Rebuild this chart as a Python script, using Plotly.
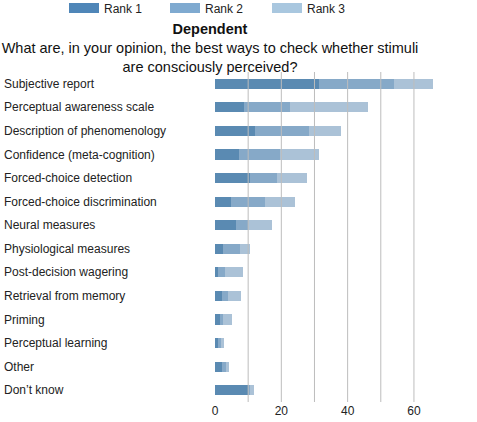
import plotly.graph_objects as go

categories = ["Subjective report", "Perceptual awareness scale", "Description of phenomenology",
              "Confidence (meta-cognition)", "Forced-choice detection", "Forced-choice discrimination",
              "Neural measures", "Physiological measures", "Post-decision wagering",
              "Retrieval from memory", "Priming", "Perceptual learning", "Other", "Don\u2019t know"]
rank1 = [31.5, 8.6, 12.0, 7.2, 10.5, 4.8, 6.3, 2.4, 1.0, 2.0, 1.5, 0.8, 2.0, 10.0]
rank2 = [22.6, 13.9, 16.3, 12.4, 8.2, 10.3, 3.7, 5.1, 2.0, 2.0, 1.0, 0.9, 1.2, 0.7]
rank3 = [11.7, 23.5, 9.7, 11.7, 9.0, 9.1, 7.3, 3.2, 5.4, 3.7, 2.7, 0.9, 0.9, 1.0]
series_names = ["Rank 1", "Rank 2", "Rank 3"]
bar_colors = ["#5a8ab2", "#86a9c8", "#abc2d7"]
legend_colors = ["#4f86b8", "#7faad0", "#a9c7df"]
tick_values = [0, 20, 40, 60]
grid_values = [10, 20, 30, 40, 50, 60]

W, H = 477, 422
ml, mr, mt, mb = 215, 10, 72, 20
font = "Liberation Sans, Arial, Helvetica, sans-serif"
legend_ids = ["legend", "legend2", "legend3"]
legend_left_px = [64, 165, 267]

fig = go.Figure()
for name, vals, col in zip(series_names, [rank1, rank2, rank3], bar_colors):
    fig.add_trace(go.Bar(y=categories, x=vals, orientation="h", name=name,
                         marker=dict(color=col, line=dict(width=0)), showlegend=False))
# legend entries with wide swatches
for name, col, lid in zip(series_names, legend_colors, legend_ids):
    fig.add_trace(go.Scatter(x=[None], y=[None], mode="lines", name=name, legend=lid,
                             line=dict(color=col, width=10), showlegend=True))

shapes = [dict(type="line", xref="x", yref="paper", x0=g, x1=g, y0=0, y1=1,
               line=dict(color="#bdbdbd", width=1), layer="above") for g in grid_values]

annotations = [dict(x=(2 - ml) / (W - ml - mr), xref="paper", y=c, yref="y", text=c,
                    showarrow=False, xanchor="left", yanchor="middle",
                    font=dict(family=font, size=12, color="#222")) for c in categories]

legends = {}
for lid, px in zip(legend_ids, legend_left_px):
    legends[lid] = dict(orientation="h", x=px / W, xanchor="left", xref="container",
                        y=1 - 8 / H, yanchor="middle", yref="container", bgcolor="rgba(0,0,0,0)",
                        font=dict(family=font, size=12, color="#222"), itemwidth=30)

fig.update_layout(
    width=W, height=H,
    margin=dict(l=ml, r=mr, t=mt, b=mb, autoexpand=False),
    barmode="stack", bargap=0.575,
    plot_bgcolor="white", paper_bgcolor="white",
    font=dict(family=font, size=12, color="#222"),
    title=dict(text="<b>Dependent</b><br>What are, in your opinion, the best ways to check whether stimuli<br>are consciously perceived?",
               x=210 / W, xanchor="center", xref="container", y=1 - 34 / H, yanchor="top", yref="container",
               font=dict(family=font, size=14.5, color="#111")),
    xaxis=dict(range=[0, 76], tickvals=tick_values, showgrid=False, zeroline=False,
               showline=False, ticks="", tickfont=dict(family=font, size=12, color="#222")),
    yaxis=dict(autorange="reversed", showticklabels=False, showgrid=False, zeroline=False, ticks=""),
    shapes=shapes, annotations=annotations,
    **legends,
)
fig.write_html("out.html")
